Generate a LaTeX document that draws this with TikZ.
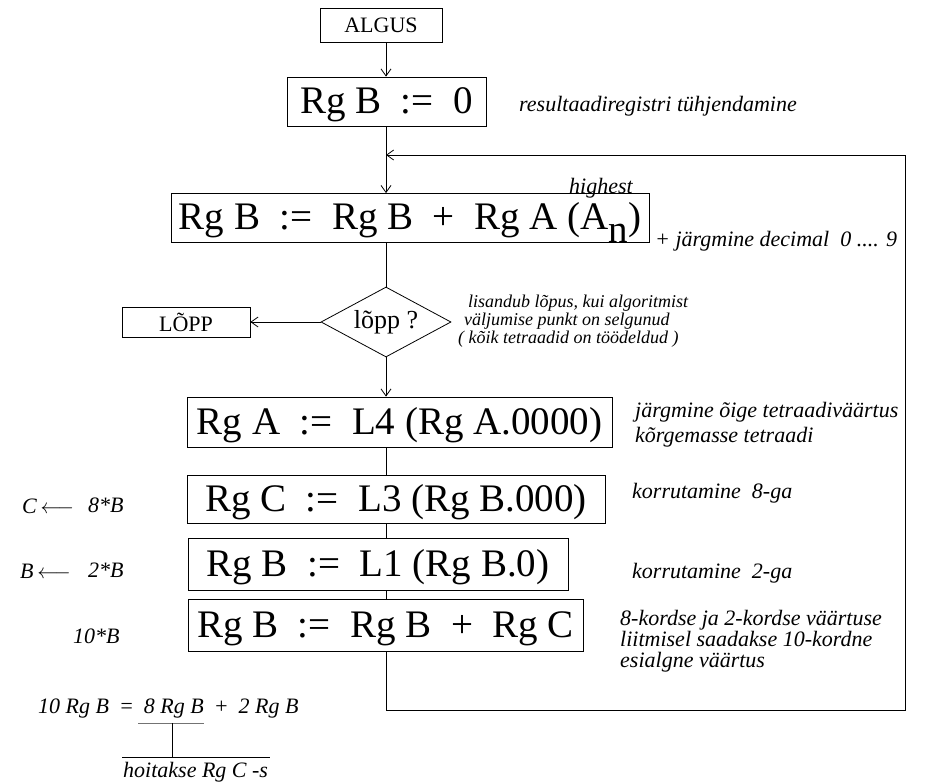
\documentclass[tikz,border=0pt]{standalone}
\usepackage{fontspec}
\setmainfont{Liberation Serif}
\usetikzlibrary{shapes.geometric,arrows.meta}
\definecolor{ulgray}{gray}{0.45}
\begin{document}
\begin{tikzpicture}[x=1pt,y=-1pt,
  box/.style={draw, line width=0.8pt, inner sep=0pt},
  big/.style={font=\fontsize{39}{39}\selectfont, text height=30pt, text depth=6pt},
  small/.style={font=\fontsize{22}{22}\selectfont},
  com/.style={font=\itshape\fontsize{22}{22}\selectfont, anchor=base west, inner sep=0pt},
  scom/.style={com, font=\itshape\fontsize{18}{18}\selectfont},
  arr/.style={-{Straight Barb[length=7pt,width=10pt]}, line width=0.8pt},
  ln/.style={line width=0.8pt}]
\useasboundingbox (0,0) rectangle (933,783);
% boxes
\node[box, small, minimum width=122pt, minimum height=34pt] (algus) at (381,25) {ALGUS};
\node[box, big, minimum width=199pt, minimum height=49pt] (b0) at (386.5,101.5) {Rg B\ \ :=\ \ 0};
\node[box, big, minimum width=478pt, minimum height=49pt] (b1) at (410,218) {Rg B\ \ :=\ \ Rg B\ \ +\ \ Rg A (A\raisebox{-13pt}{n})};
\node[draw, line width=0.8pt, shape=diamond, aspect=1.86, inner sep=0pt, minimum width=130pt, minimum height=70pt, font=\fontsize{26}{26}\selectfont] (dia) at (386,322) {lõpp ?};
\node[box, small, minimum width=128pt, minimum height=30pt] (lopp) at (186,322) {LÕPP};
\node[box, big, minimum width=425pt, minimum height=50pt] (b2) at (399.5,422) {Rg A\ \ :=\ \ L4 (Rg A.0000)};
\node[box, big, minimum width=418pt, minimum height=48pt] (b3) at (396,499) {Rg C\ \ :=\ \ L3 (Rg B.000)};
\node[box, big, minimum width=380pt, minimum height=52pt] (b4) at (378,564) {Rg B\ \ :=\ \ L1 (Rg B.0)};
\node[box, big, minimum width=395pt, minimum height=52pt] (b5) at (385.5,625) {Rg B\ \ :=\ \ Rg B\ \ +\ \ Rg C};
% loop corners
\coordinate (lp1) at (905,155);
\coordinate (lp2) at (905,710);
\coordinate (lp3) at (386,710);
% connectors
\draw[arr] (algus.south -| dia) -- (b0.north -| dia);
\draw[arr] (b0.south -| dia) -- (b1.north -| dia);
\draw[ln] (b1.south -| dia) -- (dia.north);
\draw[arr] (dia.south) -- (b2.north -| dia);
\draw[arr] (dia.west) -- (lopp.east);
\draw[ln] (b2.south -| dia) -- (b3.north -| dia);
\draw[ln] (b3.south -| dia) -- (b4.north -| dia);
\draw[ln] (b4.south -| dia) -- (b5.north -| dia);
\draw[arr] (b5.south -| dia) -- (lp3) -- (lp2) -- (lp1) -- (lp1 -| dia);
% comments
\node[com] (c0) at (519,112) {resultaadiregistri tühjendamine};
\node[com] (hi) at (569,194) {highest};
\node[com] (c1) at (655,247) {+ järgmine decimal\ \ 0 .... 9};
\node[scom] (c2a) at (468,307) {lisandub lõpus, kui algoritmist};
\node[scom] (c2b) at (464,325) {väljumise punkt on selgunud};
\node[scom] (c2c) at (458,343) {( kõik tetraadid on töödeldud )};
\node[com] (c3a) at (635,417) {järgmine õige tetraadiväärtus};
\node[com] (c3b) at (635,442) {kõrgemasse tetraadi};
\node[com] (c4) at (632,498) {korrutamine\ \ 8-ga};
\node[com] (c5) at (632,578) {korrutamine\ \ 2-ga};
\node[com] (c6a) at (620,625) {8-kordse ja 2-kordse väärtuse};
\node[com] (c6b) at (620,646) {liitmisel saadakse 10-kordne};
\node[com] (c6c) at (620,667) {esialgne väärtus};
% left notes
\node[com] (n1) at (22,513) {C\,$\longleftarrow$};
\node[com] (m1) at (88,512) {8*B};
\node[com] (n2) at (20,578) {B\,$\longleftarrow$};
\node[com] (m2) at (88,577) {2*B};
\node[com] (m3) at (73,643) {10*B};
% bottom formula
\node[com] (eq) at (38,713) {10 Rg B\hspace{10pt}=\hspace{10pt}8 Rg B\hspace{10pt}+\hspace{10pt}2 Rg B};
\coordinate (u1) at (138,723);
\coordinate (u2) at (204,723);
\coordinate (v1) at (172,723);
\coordinate (v2) at (172,757);
\coordinate (h1) at (122,757);
\coordinate (h2) at (270,757);
\draw[ln, ulgray] (u1) -- (u2);
\draw[ln] (v1) -- (v2);
\draw[ln] (h1) -- (h2);
\node[com] (hoit) at (123,777) {hoitakse Rg C -s};
\end{tikzpicture}
\end{document}
